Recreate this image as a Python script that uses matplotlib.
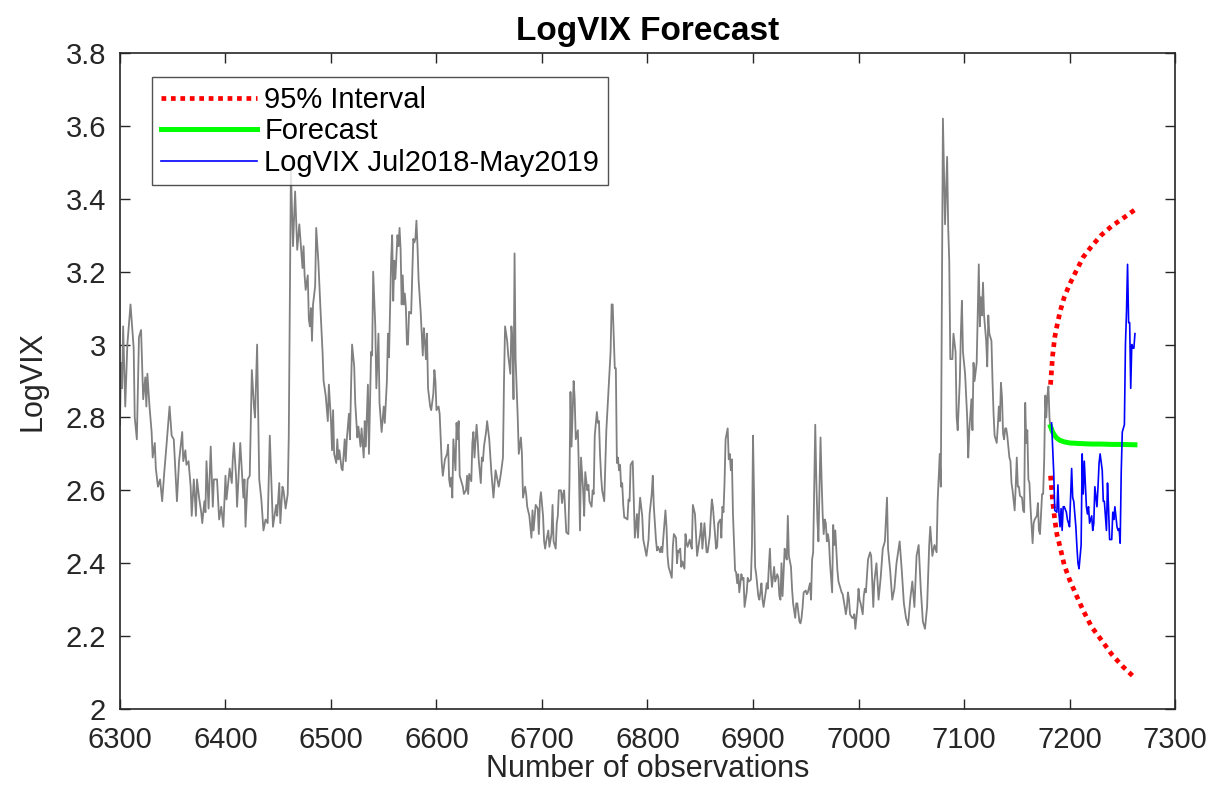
import matplotlib
matplotlib.use("Agg")
import matplotlib.pyplot as plt

plt.rcParams['font.family'] = ['Liberation Sans', 'DejaVu Sans']

hist_obs = [
    6300, 6301, 6302, 6303, 6305, 6307, 6310, 6313, 6314, 6316, 6318, 6320, 6322, 6324, 6325, 6326,
    6328, 6330, 6331, 6333, 6334, 6336, 6338, 6340, 6342, 6344, 6347, 6349, 6351, 6353, 6354, 6356,
    6359, 6360, 6362, 6363, 6365, 6367, 6368, 6370, 6372, 6373, 6375, 6377, 6378, 6380, 6381, 6382,
    6384, 6386, 6388,
    6389, 6392, 6394, 6396, 6398, 6400, 6401, 6403, 6404, 6406, 6407, 6408, 6410, 6411, 6414, 6415,
    6417, 6418, 6419, 6421, 6423, 6425, 6427, 6428, 6430, 6432, 6434, 6436, 6438, 6440, 6442, 6444,
    6445, 6448, 6449, 6451, 6452, 6454, 6455, 6457, 6459, 6460, 6462, 6464, 6466, 6468,
    6470, 6472, 6473, 6474, 6475, 6476, 6478, 6479, 6480, 6481, 6482, 6483, 6485, 6486, 6488, 6490,
    6492, 6493, 6495, 6497, 6498, 6500, 6501, 6502, 6503, 6505, 6506, 6507, 6508, 6510, 6511, 6513,
    6514, 6515, 6517, 6518, 6519, 6520, 6522, 6523, 6525, 6526, 6528, 6529, 6531, 6532, 6533, 6535,
    6536, 6538, 6539, 6540, 6542, 6543, 6545, 6546, 6548, 6550, 6551, 6553, 6554, 6555, 6557, 6558,
    6559, 6560,
    6561, 6563, 6564, 6565, 6566, 6567, 6568, 6569, 6570, 6571, 6572, 6573, 6574, 6576, 6577, 6578,
    6579, 6580, 6581, 6582, 6583, 6585, 6586, 6587, 6588, 6589, 6590, 6591, 6592, 6594, 6595, 6597,
    6598, 6599, 6600, 6602, 6603, 6604, 6605, 6606, 6608, 6610, 6611, 6612, 6613, 6614, 6615, 6616,
    6618, 6619, 6620, 6621, 6622, 6623, 6625, 6626, 6628, 6629, 6630, 6631, 6633, 6634, 6635, 6636,
    6638, 6639, 6640, 6642, 6643, 6644, 6645, 6647, 6648, 6649, 6650,
    6652, 6654, 6656, 6659, 6661, 6663, 6664, 6665, 6667, 6668, 6670, 6671, 6672, 6673, 6674, 6675,
    6677, 6678, 6680, 6681, 6682, 6684, 6685, 6686, 6688, 6690, 6691, 6692, 6694, 6696, 6697, 6698,
    6699, 6701, 6702, 6703, 6704, 6706, 6707, 6709, 6710, 6711, 6713, 6714, 6715, 6716, 6718, 6719,
    6720, 6721, 6723, 6725, 6726, 6727, 6728, 6730, 6731, 6732, 6734, 6735, 6736, 6737, 6739, 6740,
    6741, 6743, 6744, 6745, 6747, 6748, 6749, 6750, 6752, 6753, 6754, 6755, 6756, 6757, 6759, 6760,
    6761, 6763, 6765, 6766, 6767, 6769, 6770, 6771, 6772, 6773, 6774, 6775, 6776, 6777, 6778, 6779,
    6781, 6782, 6783, 6784, 6786, 6787, 6788, 6790, 6791, 6792, 6793, 6795, 6796, 6798, 6799, 6801,
    6802, 6804, 6805, 6806, 6808, 6809, 6810, 6812, 6813, 6814, 6815, 6817, 6818, 6819, 6820, 6822,
    6823, 6824, 6825, 6827, 6828, 6829, 6830,
    6831, 6832, 6833, 6835, 6836, 6837, 6838, 6840, 6841, 6842, 6843, 6845, 6846, 6847, 6849, 6850,
    6851, 6852, 6854, 6855, 6856, 6857, 6859, 6860, 6861, 6862, 6864, 6865, 6866, 6867, 6869, 6870,
    6871, 6872, 6873, 6874, 6876, 6877, 6878, 6879, 6880, 6881, 6883, 6884, 6885, 6886, 6887, 6889,
    6890, 6891, 6892, 6894, 6895, 6896, 6898, 6899, 6900, 6901, 6902, 6903, 6905, 6906, 6907, 6908,
    6909, 6910, 6912, 6913, 6914, 6915, 6916, 6917, 6918, 6920,
    6921, 6923, 6924, 6925, 6926, 6927, 6928, 6930, 6931, 6932, 6933, 6934, 6936, 6937, 6938, 6940,
    6941, 6942, 6944, 6945, 6946, 6947, 6948, 6950, 6951, 6952, 6954, 6955, 6956, 6957, 6959, 6960,
    6961, 6962, 6964, 6965, 6966, 6967, 6968, 6969, 6970, 6971, 6972, 6973, 6975, 6976, 6977, 6978,
    6980, 6981, 6983, 6984, 6985, 6987, 6988, 6989, 6990, 6991, 6992, 6994, 6995, 6996, 6997, 6999,
    7000, 7001, 7002, 7004, 7005, 7006, 7007, 7009, 7010, 7011, 7012, 7014, 7015,
    7017, 7019, 7021, 7023, 7025, 7027, 7028, 7030, 7032, 7034, 7036, 7039, 7041, 7043, 7045, 7047,
    7049, 7051, 7053, 7055, 7057, 7059, 7061, 7063, 7065, 7067, 7068, 7070, 7072, 7074, 7075, 7077,
    7078, 7080, 7082, 7084, 7085, 7086, 7087, 7089, 7090, 7092, 7093, 7094, 7096, 7097, 7098, 7099,
    7101, 7103, 7104, 7105, 7107, 7108, 7109, 7110, 7112, 7113, 7114, 7115, 7116, 7117, 7118, 7119,
    7121, 7122, 7123, 7124, 7126, 7127, 7128, 7129, 7131, 7132, 7133, 7134, 7135, 7136, 7137, 7138,
    7139, 7140, 7141, 7143, 7144, 7145, 7146, 7148, 7149, 7150, 7151, 7152, 7153, 7155, 7156, 7157,
    7158, 7159, 7160, 7161, 7162, 7163, 7165, 7166, 7167, 7169, 7170, 7171, 7172, 7174, 7175, 7176,
    7177, 7178, 7179, 7180, 7181, 7182,
]
hist_logvix = [
    2.78, 2.95, 2.88, 3.05, 2.83, 3.00, 3.11, 2.99, 2.80, 2.74, 3.02, 3.04, 2.85, 2.91, 2.83, 2.92,
    2.83, 2.76, 2.69, 2.73, 2.66, 2.61, 2.63, 2.57, 2.65, 2.72, 2.83, 2.75, 2.74, 2.63, 2.57, 2.68,
    2.76, 2.68, 2.71, 2.67, 2.68, 2.61, 2.53, 2.63, 2.53, 2.63, 2.58, 2.54, 2.51, 2.57, 2.54, 2.68,
    2.55, 2.72, 2.555,
    2.63, 2.63, 2.52, 2.555, 2.50, 2.64, 2.575, 2.63, 2.66, 2.62, 2.69, 2.73, 2.64, 2.555, 2.73, 2.68,
    2.58, 2.63, 2.50, 2.63, 2.64, 2.93, 2.83, 2.80, 3.00, 2.63, 2.575, 2.49, 2.52, 2.51, 2.75, 2.58,
    2.50, 2.56, 2.53, 2.62, 2.51, 2.61, 2.60, 2.55, 2.59, 2.75, 3.48, 3.27, 3.42, 3.26,
    3.33, 3.25, 3.21, 3.27, 3.19, 3.15, 3.19, 3.07, 3.05, 3.10, 3.01, 3.11, 3.16, 3.32, 3.23, 3.10,
    2.98, 2.90, 2.86, 2.79, 2.89, 2.79, 2.71, 2.82, 2.70, 2.675, 2.74, 2.685, 2.71, 2.66, 2.655, 2.74,
    2.68, 2.74, 2.81, 2.74, 2.88, 3.00, 2.94, 2.84, 2.745, 2.775, 2.72, 2.77, 2.69, 2.79, 2.72, 2.89,
    2.70, 2.98, 2.97, 3.20, 3.05, 2.88, 3.03, 2.84, 2.76, 2.83, 2.785, 2.90, 3.03, 2.965, 3.23, 3.30,
    3.12, 3.23,
    3.18, 3.30, 3.27, 3.32, 3.26, 3.11, 3.19, 3.11, 3.14, 3.10, 3.00, 3.00, 3.09, 3.085, 3.19, 3.29,
    3.28, 3.29, 3.34, 3.27, 3.18, 3.09, 3.03, 2.97, 3.045, 3.01, 2.96, 3.03, 2.88, 2.83, 2.82, 2.865,
    2.93, 2.90, 2.82, 2.83, 2.81, 2.74, 2.675, 2.64, 2.685, 2.70, 2.725, 2.63, 2.61, 2.635, 2.58, 2.74,
    2.655, 2.785, 2.74, 2.79, 2.64, 2.63, 2.61, 2.59, 2.60, 2.64, 2.59, 2.645, 2.625, 2.73, 2.76, 2.69,
    2.78, 2.74, 2.685, 2.62, 2.69, 2.68, 2.72, 2.76, 2.79, 2.765, 2.74,
    2.65, 2.58, 2.655, 2.61, 2.645, 2.69, 2.90, 3.05, 3.01, 2.97, 2.92, 3.05, 3.01, 2.85, 3.25, 2.96,
    2.80, 2.70, 2.745, 2.70, 2.58, 2.61, 2.59, 2.555, 2.53, 2.47, 2.545, 2.49, 2.56, 2.55, 2.48, 2.57,
    2.595, 2.53, 2.46, 2.44, 2.46, 2.49, 2.445, 2.48, 2.56, 2.46, 2.44, 2.51, 2.53, 2.60, 2.60, 2.565,
    2.59, 2.60, 2.485, 2.48, 2.62, 2.87, 2.72, 2.90, 2.85, 2.74, 2.765, 2.65, 2.49, 2.69, 2.60, 2.53,
    2.65, 2.60, 2.615, 2.57, 2.555, 2.60, 2.59, 2.75, 2.815, 2.785, 2.79, 2.70, 2.64, 2.60, 2.57, 2.665,
    2.765, 2.87, 2.98, 3.11, 3.11, 2.935, 2.935, 2.675, 2.69, 2.655, 2.67, 2.61, 2.62, 2.56, 2.525, 2.525,
    2.52, 2.575, 2.57, 2.67, 2.68, 2.58, 2.47, 2.535, 2.47, 2.535, 2.58, 2.53, 2.465, 2.435, 2.42, 2.465,
    2.535, 2.59, 2.64, 2.555, 2.465, 2.435, 2.445, 2.43, 2.445, 2.43, 2.47, 2.545, 2.50, 2.42, 2.39, 2.37,
    2.36, 2.445, 2.48, 2.47, 2.40, 2.435, 2.43,
    2.44, 2.39, 2.405, 2.385, 2.48, 2.455, 2.445, 2.465, 2.45, 2.44, 2.56, 2.535, 2.475, 2.42, 2.46, 2.48,
    2.51, 2.44, 2.51, 2.47, 2.43, 2.43, 2.475, 2.53, 2.575, 2.555, 2.48, 2.44, 2.445, 2.51, 2.52, 2.47,
    2.555, 2.54, 2.62, 2.74, 2.77, 2.685, 2.70, 2.655, 2.685, 2.535, 2.38, 2.375, 2.345, 2.37, 2.32, 2.37,
    2.355, 2.36, 2.28, 2.32, 2.36, 2.35, 2.355, 2.45, 2.75, 2.585, 2.39, 2.37, 2.31, 2.30, 2.32, 2.345,
    2.30, 2.28, 2.32, 2.345, 2.33, 2.39, 2.44, 2.37, 2.335, 2.39,
    2.35, 2.37, 2.36, 2.31, 2.30, 2.40, 2.31, 2.44, 2.42, 2.41, 2.53, 2.42, 2.39, 2.33, 2.29, 2.25,
    2.29, 2.29, 2.24, 2.235, 2.25, 2.28, 2.32, 2.325, 2.315, 2.32, 2.345, 2.30, 2.41, 2.43, 2.78, 2.63,
    2.52, 2.46, 2.745, 2.63, 2.535, 2.48, 2.52, 2.51, 2.46, 2.48, 2.46, 2.40, 2.32, 2.505, 2.45, 2.49,
    2.38, 2.35, 2.33, 2.32, 2.315, 2.28, 2.26, 2.28, 2.32, 2.30, 2.26, 2.25, 2.25, 2.26, 2.22, 2.28,
    2.33, 2.30, 2.29, 2.26, 2.31, 2.33, 2.32, 2.41, 2.42, 2.43, 2.42, 2.28, 2.35,
    2.40, 2.30, 2.36, 2.44, 2.46, 2.58, 2.44, 2.38, 2.30, 2.33, 2.40, 2.46, 2.38, 2.29, 2.25, 2.23,
    2.30, 2.35, 2.28, 2.42, 2.45, 2.33, 2.24, 2.22, 2.28, 2.45, 2.50, 2.42, 2.45, 2.43, 2.57, 2.70,
    2.61, 3.62, 3.33, 3.515, 3.32, 3.23, 2.96, 2.96, 3.03, 2.98, 2.80, 2.765, 2.90, 3.03, 3.12, 2.98,
    2.92, 2.80, 2.69, 2.765, 2.85, 2.765, 2.95, 2.90, 2.95, 3.09, 3.22, 3.05, 3.13, 3.08, 3.17, 3.08,
    3.01, 2.94, 3.08, 3.03, 3.01, 2.90, 2.81, 2.75, 2.73, 2.775, 2.83, 2.79, 2.895, 2.855, 2.755, 2.74,
    2.77, 2.77, 2.75, 2.69, 2.68, 2.62, 2.60, 2.545, 2.61, 2.69, 2.61, 2.61, 2.585, 2.58, 2.545, 2.54,
    2.84, 2.73, 2.765, 2.63, 2.62, 2.555, 2.455, 2.51, 2.52, 2.53, 2.565, 2.49, 2.48, 2.59, 2.59, 2.685,
    2.86, 2.80, 2.86, 2.885, 2.80, 2.765,
]

# realised LogVIX Jul2018-May2019
actual_obs = [
    7183, 7185, 7186, 7188, 7189, 7190, 7191, 7192, 7193, 7194, 7195, 7197, 7198, 7199, 7200, 7202,
    7203, 7204, 7206, 7207, 7208, 7209, 7211, 7212, 7213, 7214, 7216, 7217, 7218, 7219, 7221, 7222,
    7223, 7224, 7226, 7227, 7228, 7229, 7231, 7232, 7233, 7235, 7236, 7237, 7238, 7240, 7241, 7242,
    7243, 7245, 7246, 7247, 7248, 7249, 7250, 7252, 7253, 7254, 7255, 7256, 7257, 7258, 7259, 7260,
    7261, 7262,
]
actual_logvix = [
    2.785, 2.65, 2.545, 2.54, 2.615, 2.535, 2.50, 2.55, 2.49, 2.555, 2.555, 2.54, 2.52, 2.51, 2.50, 2.66,
    2.58, 2.57, 2.50, 2.445, 2.40, 2.385, 2.45, 2.70, 2.59, 2.68, 2.555, 2.535, 2.555, 2.51, 2.53, 2.49,
    2.51, 2.61, 2.555, 2.61, 2.675, 2.70, 2.655, 2.57, 2.57, 2.49, 2.62, 2.55, 2.465, 2.465, 2.54, 2.52,
    2.555, 2.50, 2.49, 2.495, 2.455, 2.65, 2.76, 2.78, 3.00, 3.09, 3.22, 3.06, 3.06, 2.88, 3.00, 2.99,
    2.99, 3.03,
]

# forecast mean and 95% interval
fc_obs = [7182, 7184, 7186, 7188, 7191, 7195, 7200, 7206, 7213, 7221, 7230, 7240, 7250, 7262]
fc_mean = [2.775, 2.760, 2.750, 2.743, 2.737, 2.733, 2.730, 2.729, 2.728, 2.727, 2.727, 2.726, 2.726, 2.725]
fc_upper = [2.89, 2.97, 3.02, 3.05, 3.09, 3.13, 3.165, 3.20, 3.24, 3.27, 3.30, 3.325, 3.345, 3.37]
fc_lower = [2.64, 2.57, 2.52, 2.48, 2.445, 2.395, 2.355, 2.315, 2.27, 2.225, 2.19, 2.15, 2.118, 2.085]

fig = plt.figure(figsize=(12.13, 7.85), dpi=100)
ax = fig.add_axes([0.0989, 0.0968, 0.8698, 0.8357])

ax.plot(hist_obs, hist_logvix, color=(0.5, 0.5, 0.5), lw=1.3)
h1, = ax.plot(fc_obs, fc_upper, color='red', lw=3.4, dashes=(1, 1), dash_capstyle='butt',
              label='95% Interval')
ax.plot(fc_obs, fc_lower, color='red', lw=3.4, dashes=(1, 1), dash_capstyle='butt')
h2, = ax.plot(fc_obs, fc_mean, color=(0, 1, 0), lw=3.6, label='Forecast')
h3, = ax.plot(actual_obs, actual_logvix, color='blue', lw=1.2, label='LogVIX Jul2018-May2019')

ax.set_xlim(6300, 7300)
ax.set_ylim(2, 3.8)
ax.set_xticks(range(6300, 7301, 100))
yt = [2, 2.2, 2.4, 2.6, 2.8, 3, 3.2, 3.4, 3.6, 3.8]
ax.set_yticks(yt)
ax.set_yticklabels(['2', '2.2', '2.4', '2.6', '2.8', '3', '3.2', '3.4', '3.6', '3.8'])

dark = (0.15, 0.15, 0.15)
ax.tick_params(direction='in', top=True, right=True, length=7.5, width=1.0,
               labelsize=21, colors=dark)
ax.tick_params(axis='x', pad=12)
ax.tick_params(axis='y', pad=10)
for s in ax.spines.values():
    s.set_linewidth(1.2)
    s.set_color(dark)

ax.set_title('LogVIX Forecast', fontsize=24, fontweight='bold', pad=9)
ax.set_xlabel('Number of observations', fontsize=22, color=dark, labelpad=0)
ax.set_ylabel('LogVIX', fontsize=22, color=dark, labelpad=13)

leg = ax.legend(handles=[h1, h2, h3], loc='upper left', bbox_to_anchor=(0.0303, 0.9634),
                borderaxespad=0, fontsize=21, frameon=True, fancybox=False,
                handlelength=3.3, handletextpad=0.25, labelspacing=0.12, borderpad=0.3)
leg.get_frame().set_edgecolor(dark)
leg.get_frame().set_linewidth(1.0)

fig.savefig('out.png', dpi=100)
